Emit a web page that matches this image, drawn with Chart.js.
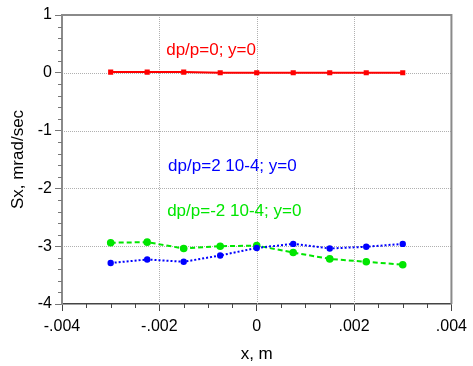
<!DOCTYPE html>
<html>
<head>
<meta charset="utf-8">
<script src="https://cdn.jsdelivr.net/npm/chart.js@4"></script>
<style>
  body { margin: 0; background: #fff; }
  canvas { display: block; }
</style>
</head>
<body>
<canvas id="myChart" width="473" height="366"></canvas>
<script>
// x positions, m
const xValues = [-0.003, -0.00225, -0.0015, -0.00075, 0, 0.00075, 0.0015, 0.00225, 0.003];

// Sx, mrad/sec
const sxDp0 = [0.012, 0.012, 0.012, 0, 0, 0, 0, 0, 0];
const sxDpPlus = [-3.29, -3.23, -3.27, -3.16, -3.03, -2.96, -3.04, -3.01, -2.96];
const sxDpMinus = [-2.94, -2.93, -3.04, -3.00, -2.99, -3.11, -3.22, -3.27, -3.32];

const seriesNames = ['dp/p=0; y=0', 'dp/p=2 10-4; y=0', 'dp/p=-2 10-4; y=0'];
const seriesColors = ['#ff0000', '#0000ff', '#00e600'];

// text labels (in data coordinates)
const noteX = [-0.00186, -0.00182, -0.00184];
const noteY = [0.39, -1.62, -2.40];

const xTickLabels = { '-0.004': '-.004', '-0.002': '-.002', '0': '0', '0.002': '.002', '0.004': '.004' };
const xGridValues = [-0.002, 0, 0.002];
const yGridValues = [0, -1, -2, -3];
const xMinorTicks = [-0.0035, -0.003, -0.0025, -0.0015, -0.001, -0.0005, 0.0005, 0.001, 0.0015, 0.0025, 0.003, 0.0035];
const yMinorTicks = [0.8, 0.6, 0.4, 0.2, -0.2, -0.4, -0.6, -0.8, -1.2, -1.4, -1.6, -1.8,
                     -2.2, -2.4, -2.6, -2.8, -3.2, -3.4, -3.6, -3.8];

const toPoints = (ys) => xValues.map((x, i) => ({ x: x, y: ys[i] }));

const frameAndNotes = {
    id: 'frameAndNotes',
    beforeDatasetsDraw(chart) {
        // dotted grid
        const ctx = chart.ctx;
        const area = chart.chartArea;
        const xs = chart.scales.x;
        const ys = chart.scales.y;
        ctx.save();
        ctx.strokeStyle = '#b0b0b0';
        ctx.lineWidth = 1;
        ctx.setLineDash([1, 1]);
        ctx.beginPath();
        xGridValues.forEach((v) => {
            const px = Math.round(xs.getPixelForValue(v)) + 0.5;
            ctx.moveTo(px, area.top + 2);
            ctx.lineTo(px, area.bottom);
        });
        yGridValues.forEach((v) => {
            const py = Math.round(ys.getPixelForValue(v)) + 0.5;
            ctx.moveTo(area.left + 2, py);
            ctx.lineTo(area.right, py);
        });
        ctx.stroke();
        ctx.restore();
    },
    afterDraw(chart) {
        const ctx = chart.ctx;
        const area = chart.chartArea;
        const xs = chart.scales.x;
        const ys = chart.scales.y;
        ctx.save();
        // top and right frame
        ctx.strokeStyle = '#8a8a8a';
        ctx.lineWidth = 2;
        ctx.beginPath();
        ctx.moveTo(area.left, area.top);
        ctx.lineTo(area.right, area.top);
        ctx.lineTo(area.right, area.bottom);
        ctx.stroke();
        // minor ticks
        ctx.lineWidth = 1;
        ctx.strokeStyle = '#777';
        ctx.beginPath();
        yMinorTicks.forEach((v) => {
            const py = Math.round(ys.getPixelForValue(v)) + 0.5;
            ctx.moveTo(area.left - 4, py);
            ctx.lineTo(area.left, py);
        });
        ctx.stroke();
        ctx.strokeStyle = '#444';
        ctx.beginPath();
        xMinorTicks.forEach((v) => {
            const px = Math.round(xs.getPixelForValue(v)) + 0.5;
            ctx.moveTo(px, area.bottom);
            ctx.lineTo(px, area.bottom + 4);
        });
        ctx.stroke();
        // series notes
        ctx.font = '17px "Liberation Sans", Arial, sans-serif';
        ctx.textBaseline = 'middle';
        ctx.textAlign = 'left';
        seriesNames.forEach((name, i) => {
            ctx.fillStyle = seriesColors[i];
            ctx.fillText(name, xs.getPixelForValue(noteX[i]), ys.getPixelForValue(noteY[i]));
        });
        ctx.restore();
    }
};

const renderChart = () => {
    var ctx = document.getElementById('myChart').getContext('2d');
    var chart = new Chart(ctx, {
        type: 'line',
        data: {
            datasets: [{
                label: seriesNames[0],
                data: toPoints(sxDp0),
                borderColor: seriesColors[0],
                backgroundColor: seriesColors[0],
                borderWidth: 2,
                pointStyle: 'rect',
                pointRadius: 2.2,
                tension: 0
            }, {
                label: seriesNames[1],
                data: toPoints(sxDpPlus),
                borderColor: seriesColors[1],
                backgroundColor: seriesColors[1],
                borderWidth: 2,
                borderDash: [2, 2],
                pointRadius: 2.2,
                tension: 0
            }, {
                label: seriesNames[2],
                data: toPoints(sxDpMinus),
                borderColor: seriesColors[2],
                backgroundColor: seriesColors[2],
                borderWidth: 2,
                borderDash: [5, 3],
                pointRadius: 2.8,
                tension: 0
            }]
        },
        options: {
            responsive: false,
            animation: false,
            layout: { padding: { left: 0, top: 15, right: 20, bottom: 0 } },
            plugins: {
                legend: { display: false },
                tooltip: { enabled: false }
            },
            scales: {
                x: {
                    type: 'linear',
                    min: -0.004,
                    max: 0.004,
                    afterFit: (scale) => { scale.height = 62; },
                    ticks: {
                        stepSize: 0.002,
                        color: '#000',
                        padding: 6,
                        maxRotation: 0,
                        font: { size: 16, family: '"Liberation Sans", Arial, sans-serif' },
                        callback: (v) => xTickLabels[String(Math.round(v * 1000) / 1000)]
                    },
                    grid: {
                        drawOnChartArea: false,
                        tickLength: 7,
                        tickColor: '#444'
                    },
                    border: { display: true, color: '#444', width: 1.5 },
                    title: {
                        display: true,
                        text: 'x, m',
                        color: '#000',
                        padding: { top: 0, bottom: 1 },
                        font: { size: 17, family: '"Liberation Sans", Arial, sans-serif' }
                    }
                },
                y: {
                    min: -4,
                    max: 1,
                    afterFit: (scale) => { scale.width = 62; },
                    ticks: {
                        stepSize: 1,
                        color: '#000',
                        padding: 3,
                        font: { size: 16, family: '"Liberation Sans", Arial, sans-serif' }
                    },
                    grid: {
                        drawOnChartArea: false,
                        tickLength: 7,
                        tickColor: '#777'
                    },
                    border: { display: true, color: '#8a8a8a', width: 2 },
                    title: {
                        display: true,
                        text: 'Sx, mrad/sec',
                        color: '#000',
                        padding: { top: 8, bottom: 0 },
                        font: { size: 17, family: '"Liberation Sans", Arial, sans-serif' }
                    }
                }
            }
        },
        plugins: [frameAndNotes]
    });
};

renderChart();
</script>
</body>
</html>
